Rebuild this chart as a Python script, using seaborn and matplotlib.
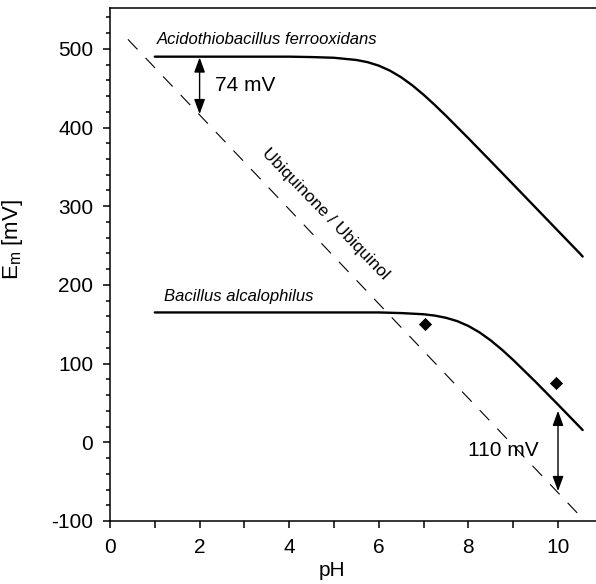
import numpy as np
import pandas as pd
import matplotlib.pyplot as plt
import seaborn as sns

# Acidothiobacillus ferrooxidans curve
ph_acido = [1.0, 2.0, 3.0, 4.0, 4.5, 5.0, 5.5, 5.75, 6.0, 6.25, 6.5, 6.75, 7.0,
            7.25, 7.5, 8.0, 8.5, 9.0, 9.5, 10.0, 10.5, 10.55]
em_acido = [490, 490, 490, 490, 489.5, 488.6, 485.8, 483, 478.6, 472.2, 463.8,
            453.5, 441.6, 428.6, 414.9, 386.3, 357.1, 327.7, 298.2, 268.7, 239.2, 236]

# Bacillus alcalophilus curve
ph_bacil = [1.0, 2.0, 3.0, 4.0, 5.0, 6.0, 6.5, 7.0, 7.25, 7.5, 7.75, 8.0, 8.25,
            8.5, 8.75, 9.0, 9.5, 10.0, 10.5, 10.55]
em_bacil = [165, 165, 165, 165, 165, 165, 164.2, 162.7, 161.0, 158.2, 154.0,
            147.8, 139.6, 129.4, 117.6, 104.6, 76.8, 47.9, 18.6, 15.6]

# measured points
ph_pts = [7.03, 9.95]
em_pts = [150, 75]

# ubiquinone / ubiquinol couple
ph_q = [0.4, 10.5]
em_q = [512, -94]

sns.set_style("ticks")
plt.rcParams['font.family'] = ['Liberation Sans', 'DejaVu Sans']
plt.rcParams['axes.unicode_minus'] = False
for k in ['text.color', 'axes.labelcolor', 'xtick.color', 'ytick.color', 'axes.edgecolor']:
    plt.rcParams[k] = 'black'

fig = plt.figure(figsize=(5.96, 5.84), dpi=100)
ax = fig.add_axes([110/596, 63/584, 486/596, 513/584])

sns.lineplot(x=ph_q, y=em_q, ax=ax, color='black', lw=0.8, dashes=False)
ax.lines[-1].set_dashes((12.5, 10.5))
sns.lineplot(x=ph_acido, y=em_acido, ax=ax, color='black', lw=1.7, sort=False)
sns.lineplot(x=ph_bacil, y=em_bacil, ax=ax, color='black', lw=1.7, sort=False)
sns.scatterplot(x=ph_pts, y=em_pts, ax=ax, marker='D', s=45, color='black',
                edgecolor='black', linewidth=0)

arr = dict(arrowstyle='<|-|>,head_length=0.6,head_width=0.22', color='black',
           lw=1.0, mutation_scale=15, shrinkA=0, shrinkB=0)
ax.annotate('', xy=(2.0, 417), xytext=(2.0, 489), arrowprops=arr)
ax.annotate('', xy=(10.0, -62), xytext=(10.0, 40), arrowprops=arr)

ax.text(2.35, 453, '74 mV', fontsize=15, va='center', ha='left')
ax.text(8.77, -10, '110 mV', fontsize=15, va='center', ha='center')
ax.text(1.05, 506, 'Acidothiobacillus ferrooxidans', fontsize=12,
        style='italic', va='baseline', ha='left')
ax.text(1.2, 179, 'Bacillus alcalophilus', fontsize=12,
        style='italic', va='baseline', ha='left')
ax.text(4.8, 290, 'Ubiquinone / Ubiquinol', fontsize=12.5, rotation=-46,
        rotation_mode='anchor', va='center', ha='center')

ax.set_xlim(0, 486/44.8)
ax.set_ylim(-100, -100 + 513/78.7*100)
ax.set_xticks([0, 2, 4, 6, 8, 10])
ax.set_xticks([1, 3, 5, 7, 9], minor=True)
ax.set_yticks([-100, 0, 100, 200, 300, 400, 500])
ax.set_yticks(np.arange(-80, 560, 20), minor=True)
ax.tick_params(axis='both', which='major', labelsize=15, length=5, width=1.1,
               direction='out', pad=7, color='black')
ax.tick_params(axis='x', which='minor', length=5, width=1.1, direction='out')
ax.tick_params(axis='y', which='minor', length=2.7, width=1.1, direction='out')

ax.set_xlabel('pH', fontsize=15)
ax.set_ylabel(r'E$_\mathregular{m}$ [mV]', fontsize=16)
ax.xaxis.set_label_coords((332-110)/486, -0.078)
ax.yaxis.set_label_coords(-0.175, (521-240)/513)

for s in ['left', 'bottom', 'top']:
    ax.spines[s].set_linewidth(1.1)
    ax.spines[s].set_color('black')
ax.spines['right'].set_visible(False)

fig.savefig('out.png', dpi=100)
